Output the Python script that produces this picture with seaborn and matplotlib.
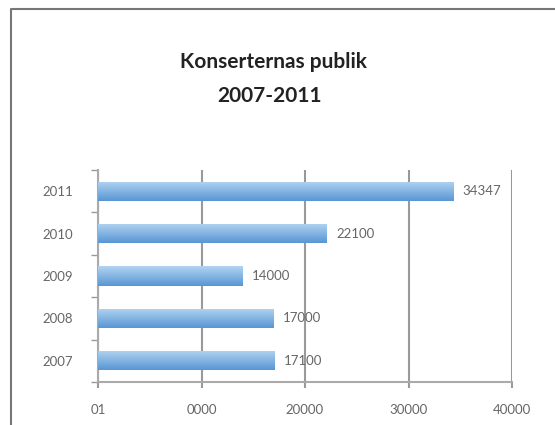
import matplotlib
matplotlib.use("Agg")
import matplotlib.pyplot as plt
import seaborn as sns
import numpy as np
import pandas as pd
from matplotlib.lines import Line2D
from matplotlib.colors import LinearSegmentedColormap

# Data
years = ["2011", "2010", "2009", "2008", "2007"]
publik = [34347, 22100, 14000, 17000, 17100]
x_ticks = [0, 10000, 20000, 30000, 40000]
x_tick_labels = ["01", "0000", "20000", "30000", "40000"]

sns.set_theme(style="white")
plt.rcParams["font.family"] = ["Lato", "DejaVu Sans"]

df = pd.DataFrame({"year": years, "publik": publik})

fig = plt.figure(figsize=(5.55, 4.25), dpi=100)
ax = fig.add_axes([98 / 555, 1 - 382 / 425, (512 - 98) / 555, (382 - 170) / 425])

sns.barplot(data=df, x="publik", y="year", order=years, orient="h",
            color="#7fb2e3", width=0.45, ax=ax, zorder=3)

# gradient fill on each bar
cmap = LinearSegmentedColormap.from_list("blu", ["#b2d4f1", "#5896d4"])
grad = np.linspace(0, 1, 100).reshape(-1, 1)
txt_col = "#666666"
for p in ax.patches:
    x0, y0 = p.get_x(), p.get_y()
    w, h = p.get_width(), p.get_height()
    p.set_facecolor("none")
    p.set_edgecolor("none")
    im = ax.imshow(grad, cmap=cmap, aspect="auto", origin="upper",
                   extent=[x0, x0 + w, y0 + h, y0], zorder=3)
    im.set_clip_path(p)
    ax.text(x0 + w + 900, y0 + h / 2, f"{int(w)}", va="center", ha="left",
            fontsize=9.5, color=txt_col)

ax.set_xlim(0, 40000)
ax.set_ylim(4.5, -0.5)
ax.set_xticks(x_ticks)
ax.set_xticklabels(x_tick_labels, fontsize=9.5, color=txt_col)
ax.set_yticks(range(len(years)))
ax.set_yticklabels(years, fontsize=9.5, color=txt_col)
ax.set_yticks(np.arange(-0.5, 5, 1), minor=True)
ax.tick_params(axis="y", which="major", length=0, pad=40)
ax.tick_params(axis="y", which="minor", length=5, width=1, color="#999999", direction="out", left=True)
ax.tick_params(axis="x", which="major", length=4, width=1.5, color="#999999", direction="out",
               bottom=True, pad=12)
ax.set_xlabel("")
ax.set_ylabel("")
for lbl in ax.get_yticklabels():
    lbl.set_horizontalalignment("left")

ax.grid(axis="x", color="#999999", linewidth=1.5, zorder=0)
ax.set_axisbelow(True)
for s in ["top", "right"]:
    ax.spines[s].set_visible(False)
for s in ["left", "bottom"]:
    ax.spines[s].set_color("#aaaaaa")
    ax.spines[s].set_linewidth(1.5)

fig.text(273 / 555, 1 - 62 / 425, "Konserternas publik", ha="center", va="center",
         fontsize=15, fontweight="bold", color="#222222")
fig.text(270 / 555, 1 - 96 / 425, "2007-2011", ha="center", va="center",
         fontsize=15, fontweight="bold", color="#222222")

# outer frame
fig.add_artist(Line2D([11 / 555, 11 / 555, 1], [0, 1 - 9 / 425, 1 - 9 / 425],
                      color="#777777", linewidth=1.5, transform=fig.transFigure))

fig.savefig("out.png", dpi=100)
